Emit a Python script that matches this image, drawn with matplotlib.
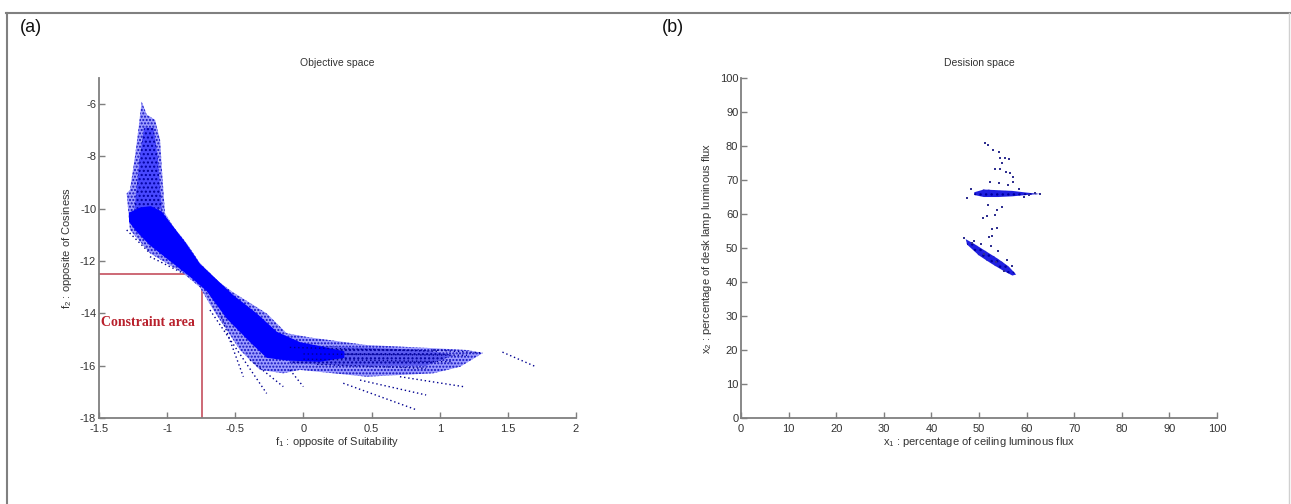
import matplotlib
matplotlib.use("Agg")
from matplotlib import pyplot as plt
from matplotlib.lines import Line2D

plt.rcParams['font.family'] = ['Liberation Sans', 'DejaVu Sans']
plt.rcParams['mathtext.fontset'] = 'custom'
plt.rcParams['mathtext.rm'] = 'Liberation Sans'
plt.rcParams['mathtext.it'] = 'Liberation Sans'
plt.rcParams['axes.unicode_minus'] = False
plt.rcParams['hatch.linewidth'] = 1.0

# ---- (a) objective space: outlines of the point cloud ----
cloud_x = [-1.187, -1.15, -1.089, -1.052, -1.04, -1.028, -1.016, -0.955, -0.857, -0.759, -0.62,
           -0.515, -0.27, -0.123, 0.048, 0.464, 0.953, 1.198, 1.317, 1.15, 0.953, 0.464, -0.025,
           -0.148, -0.319, -0.466, -0.661, -0.76, -0.881, -1.126, -1.273, -1.297, -1.273, -1.236, -1.21]
cloud_y = [-5.9, -6.4, -6.6, -7.37, -8.39, -9.28, -10.17, -10.68, -11.32, -12.08, -12.8,
           -13.2, -14.0, -14.76, -14.92, -15.21, -15.33, -15.4, -15.51, -16.04, -16.29, -16.42, -16.16,
           -16.29, -16.16, -15.4, -13.87, -13.0, -12.47, -11.7, -10.81, -9.41, -9.28, -8.0, -6.92]

plume_x = [-1.17, -1.10, -1.07, -1.04, -1.24, -1.2]
plume_y = [-6.9, -6.9, -8.0, -10.0, -10.0, -8.0]

core_x = [-1.28, -1.2, -1.12, -1.04, -0.96, -0.857, -0.76, -0.515, -0.343, -0.196, -0.025, 0.12, 0.3,
          0.3, 0.12, -0.123, -0.27, -0.392, -0.563, -0.71, -0.832, -0.979, -1.126, -1.22, -1.28]
core_y = [-10.15, -9.95, -9.9, -10.1, -10.65, -11.35, -12.1, -13.3, -14.0, -14.7, -15.1, -15.25, -15.45,
          -15.7, -15.85, -15.8, -15.7, -15.1, -14.2, -13.15, -12.6, -12.0, -11.4, -10.9, -10.5]

tail_x = [-0.1, 0.9, 1.1, 0.9, 0.3, -0.1]
tail_y = [-15.2, -15.4, -15.6, -16.0, -16.0, -15.9]

# streaks of points (start x, start y, end x, end y)
streak_x0 = [-0.686, -0.612, -0.392, -0.099, 0.292, 0.415, 0.708, -1.297, -1.126, 1.46,
             -0.1, 0.0, 0.0, 0.1, 0.95]
streak_y0 = [-13.87, -14.0, -15.78, -16.16, -16.67, -16.55, -16.42, -10.81, -11.83, -15.48,
             -15.3, -15.55, -15.75, -15.95, -15.4]
streak_x1 = [-0.27, -0.441, -0.148, -0.001, 0.831, 0.9, 1.173, -1.126, -0.881, 1.71,
             1.0, 1.2, 1.1, 0.9, 1.317]
streak_y1 = [-17.06, -16.42, -16.8, -16.8, -17.69, -17.12, -16.8, -11.7, -12.47, -16.05,
             -15.45, -15.6, -15.85, -16.1, -15.51]

constraint_f1 = -0.745
constraint_f2 = -12.5

# ---- (b) decision space ----
hc_x = [49.0, 51, 54, 57, 60, 62.8, 60, 57, 54, 51, 49.0]
hc_y = [66.4, 67.2, 67.0, 66.8, 66.3, 65.9, 65.6, 65.2, 65.0, 65.0, 65.6]
dc_x = [47.2, 49.0, 51.5, 54.0, 56.2, 57.8, 57.0, 55.0, 52.5, 50.0, 47.5]
dc_y = [52.6, 51.2, 49.0, 46.8, 44.6, 42.2, 41.9, 43.4, 45.5, 47.8, 51.0]
sparse_x = [51.3, 51.9, 53.0, 54.1, 54.4, 55.5, 56.2, 54.8, 53.4, 54.4, 55.7, 56.5, 57.2, 57.2, 52.3,
            54.1, 56.0, 51.9, 54.8, 53.7, 51.6, 50.9, 53.4, 52.7, 53.7, 52.0, 52.7, 60.5, 61.8, 62.8,
            48.3, 47.5, 58.5, 59.5, 49.0, 50.5, 52.5, 54.0, 55.8, 57.0, 46.8, 48.5, 51.0, 53.6, 55.2]
sparse_y = [80.8, 80.3, 78.8, 78.1, 76.4, 76.4, 76.1, 74.9, 73.1, 73.1, 72.4, 72.0, 71.0, 69.5, 69.5,
            69.2, 68.5, 62.6, 62.0, 61.2, 59.4, 58.7, 59.7, 55.5, 55.8, 53.1, 53.5, 65.6, 66.3, 65.9,
            67.5, 64.8, 67.3, 64.9, 52.0, 51.2, 50.5, 49.0, 46.5, 44.8, 52.8, 51.5, 48.2, 46.0, 43.2]

axis_grey = '#7f7f7f'


def style_axes(ax):
    for side in ['top', 'right']:
        ax.spines[side].set_visible(False)
    for side in ['left', 'bottom']:
        ax.spines[side].set_color(axis_grey)
        ax.spines[side].set_linewidth(1.3)
    ax.tick_params(direction='in', length=4, width=1, color=axis_grey,
                   labelsize=8, labelcolor='#333333', pad=2)
    ax.tick_params(axis='x', pad=4)


fig = plt.figure(figsize=(12.91, 5.04), dpi=100)

# (a)
ax1 = fig.add_axes([0.0767, 0.1706, 0.3695, 0.6746])
ax1.plot([-1.5, constraint_f1], [constraint_f2, constraint_f2], color='#c04050', lw=1.1, zorder=1)
ax1.plot([constraint_f1, constraint_f1], [-18, constraint_f2], color='#c04050', lw=1.1, zorder=1)
ax1.fill(cloud_x, cloud_y, facecolor='#9c9cff', edgecolor='#1010c0', hatch='.....', lw=0, zorder=2)
ax1.fill(plume_x, plume_y, facecolor='#4848ff', edgecolor='#0000a0', hatch='....', lw=0, zorder=3)
ax1.fill(tail_x, tail_y, facecolor='#5a5af0', edgecolor='#0000a0', hatch='....', lw=0, zorder=3)
ax1.fill(core_x, core_y, facecolor='#0000ff', lw=0, zorder=4)
for x0, y0, x1, y1 in zip(streak_x0, streak_y0, streak_x1, streak_y1):
    ax1.plot([x0, x1], [y0, y1], color='#000090', lw=1.0, ls=(0, (1, 2)), zorder=5)
ax1.text(-1.485, -14.33, 'Constraint area', family='Liberation Serif', weight='bold',
         fontsize=10, color='#b8202c', va='center', ha='left', zorder=6)
ax1.set_xlim(-1.5, 2)
ax1.set_ylim(-18, -5)
ax1.set_xticks([-1.5, -1, -0.5, 0, 0.5, 1, 1.5, 2])
ax1.set_xticklabels(['-1.5', '-1', '-0.5', '0', '0.5', '1', '1.5', '2'])
ax1.set_yticks([-18, -16, -14, -12, -10, -8, -6])
style_axes(ax1)
ax1.set_title('Objective space', fontsize=7.5, color='#333333', pad=9)
ax1.set_xlabel('f$_1$ : opposite of Suitability', fontsize=8, color='#333333', labelpad=1)
ax1.set_ylabel('f$_2$ : opposite of Cosiness', fontsize=8, color='#333333', labelpad=4)

# (b)
ax2 = fig.add_axes([0.574, 0.1706, 0.3687, 0.6746])
ax2.fill(hc_x, hc_y, facecolor='#2020e0', edgecolor='#0000a0', hatch='...', lw=0, zorder=2)
ax2.fill(dc_x, dc_y, facecolor='#2020e0', edgecolor='#0000a0', hatch='...', lw=0, zorder=2)
ax2.scatter(sparse_x, sparse_y, s=1.5, color='#303090', marker='s', linewidths=0, zorder=3)
ax2.set_xlim(0, 100)
ax2.set_ylim(0, 100)
ax2.set_xticks(range(0, 101, 10))
ax2.set_yticks(range(0, 101, 10))
style_axes(ax2)
ax2.set_title('Desision space', fontsize=7.5, color='#333333', pad=9)
ax2.set_xlabel('x$_1$ : percentage of ceiling luminous flux', fontsize=8, color='#333333', labelpad=1)
ax2.set_ylabel('x$_2$ : percentage of desk lamp luminous flux', fontsize=8, color='#333333', labelpad=4)

# panel letters and frame
fig.text(0.0155, 0.946, '(a)', fontsize=13, va='center', ha='left', color='#111111')
fig.text(0.513, 0.946, '(b)', fontsize=13, va='center', ha='left', color='#111111')
fig.add_artist(Line2D([0.005, 1.0], [0.975, 0.975], transform=fig.transFigure, color='#808080', lw=1.5))
fig.add_artist(Line2D([0.0055, 0.0055], [0.0, 0.975], transform=fig.transFigure, color='#808080', lw=1.5))
fig.add_artist(Line2D([0.9985, 0.9985], [0.0, 0.975], transform=fig.transFigure, color='#d0d0d0', lw=1.0))

fig.savefig('out.png', dpi=100)
